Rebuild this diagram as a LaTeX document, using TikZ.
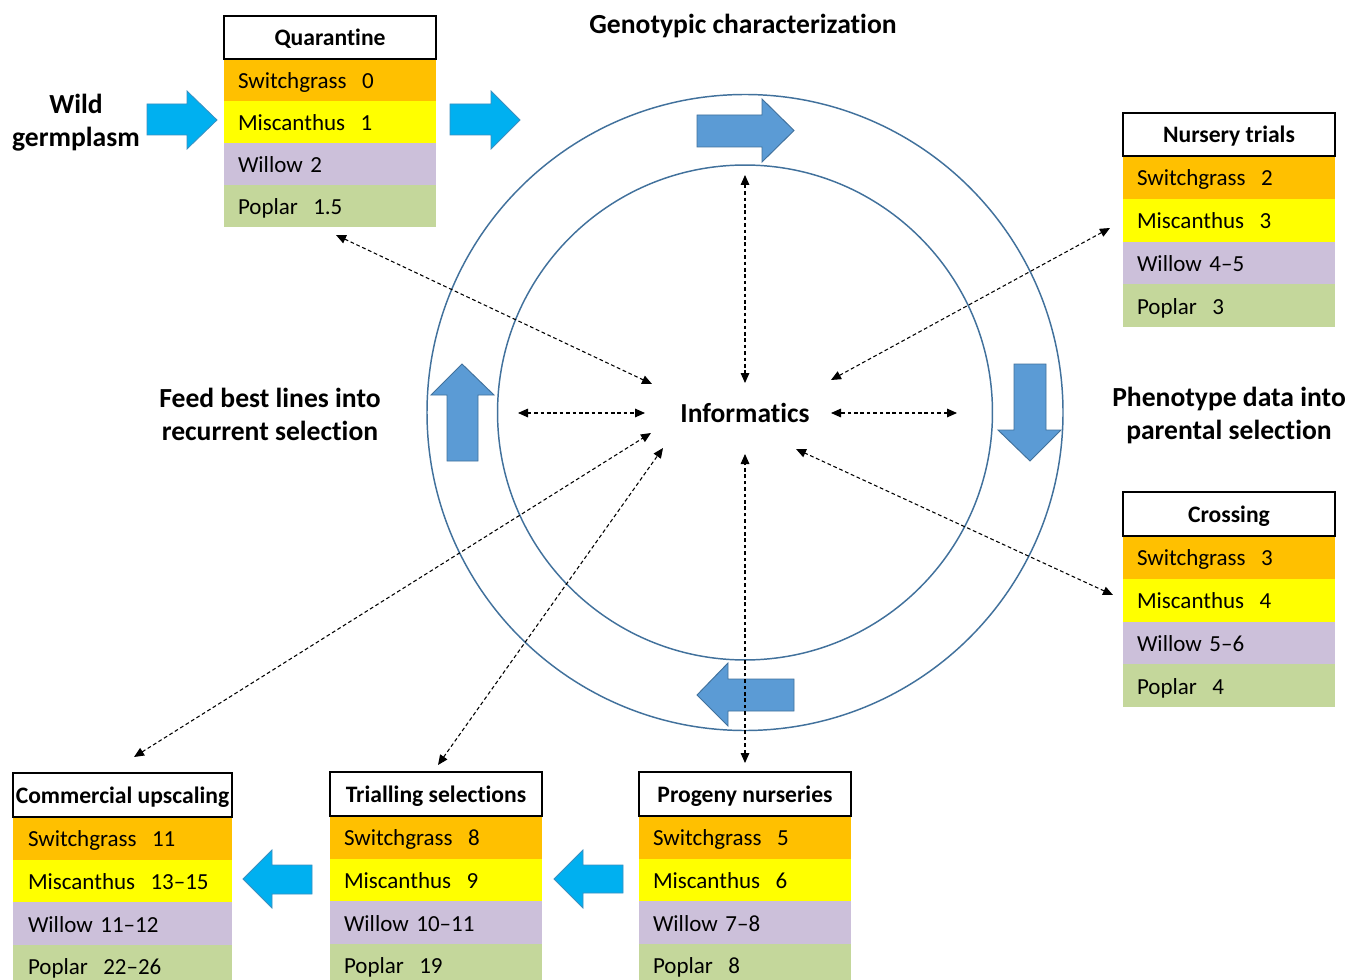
\documentclass[tikz,border=0pt]{standalone}
\usepackage{fontspec}
\setmainfont[Ligatures=NoCommon]{Carlito}
\usetikzlibrary{arrows.meta}
\definecolor{sgc}{HTML}{FFC000}
\definecolor{mic}{HTML}{FFFF00}
\definecolor{wic}{HTML}{CCC0DA}
\definecolor{poc}{HTML}{C4D79B}
\definecolor{lblue}{HTML}{00B0F0}
\definecolor{lblueline}{HTML}{3A8FC0}
\definecolor{cblue}{HTML}{5B9BD5}
\definecolor{cline}{HTML}{41719C}

\newcommand{\stagebox}[8]{%
  \pgfmathsetlengthmacro{\sbwd}{\sbw*0.75pt}%
  \pgfmathsetlengthmacro{\sbtw}{(\sbw-2*\sbx)*0.75pt}%
  \pgfmathsetlengthmacro{\sbxs}{\sbx*0.75pt}%
  \pgfmathsetlengthmacro{\sbhd}{\sbh*0.75pt}%
  \pgfmathsetlengthmacro{\sbrd}{\sbr*0.75pt}%
  \node[rowbox, fill=sgc, text width=\sbtw, inner xsep=\sbxs, minimum height=\sbrd] (#1-sg) at (#2,#3+\sbh) {#5};
  \node[rowbox, fill=mic, text width=\sbtw, inner xsep=\sbxs, minimum height=\sbrd] (#1-mi) at (#1-sg.south west) {#6};
  \node[rowbox, fill=wic, text width=\sbtw, inner xsep=\sbxs, minimum height=\sbrd] (#1-wi) at (#1-mi.south west) {#7};
  \node[rowbox, fill=poc, text width=\sbtw, inner xsep=\sbxs, minimum height=\sbrd] (#1-po) at (#1-wi.south west) {#8};
  \node[hdr, minimum width=\sbwd, minimum height=\sbhd] (#1) at (#2,#3) {#4};
}

\begin{document}
\begin{tikzpicture}[x=0.75pt,y=-0.75pt,
  hdr/.style={draw=black, line width=1pt, fill=white, inner sep=0pt, outer sep=0pt,
    anchor=north west, text height=14pt, text depth=2pt,
    font=\bfseries\fontsize{17.7}{20}\selectfont},
  rowbox/.style={inner ysep=0pt, outer sep=0pt, align=left, anchor=north west,
    text height=14.5pt, text depth=1.75pt, font=\fontsize{17.25}{20}\selectfont},
  lab/.style={font=\bfseries\fontsize{20.7}{24.75}\selectfont, align=center, inner sep=0pt},
  dashar/.style={line width=0.8pt, dash pattern=on 2.8pt off 2pt,
    {Triangle[length=7.5pt,width=6.5pt]}-{Triangle[length=7.5pt,width=6.5pt]}},
  ring/.style={draw=cline, line width=1.1pt},
  cyclearrow/.style={fill=cblue, draw=cline, line width=0.7pt, line join=miter},
  flowarrow/.style={fill=lblue, draw=lblueline, line width=0.6pt, line join=miter}
]
\clip (0,0) rectangle (1359,980);
\fill[white] (0,0) rectangle (1359,980);

% rings
\draw[ring] (745,412.5) circle[radius=238.5pt];
\draw[ring] (745,412.5) circle[radius=185.6pt];

% cycle arrows
\draw[cyclearrow] (697,115) -- (762,115) -- (762,99) -- (794,130.5) -- (762,162) -- (762,147) -- (697,147) -- cycle;
\draw[cyclearrow] (1014,364) -- (1046,364) -- (1046,430) -- (1061,430) -- (1030,461) -- (998,430) -- (1014,430) -- cycle;
\draw[cyclearrow] (794,679) -- (728,679) -- (728,663) -- (697,695) -- (728,726) -- (728,711) -- (794,711) -- cycle;
\draw[cyclearrow] (447,461) -- (447,395) -- (431,395) -- (462,364) -- (494,395) -- (478,395) -- (478,461) -- cycle;

% flow arrows
\draw[flowarrow] (147,104) -- (187,104) -- (187,91) -- (217,120) -- (187,149) -- (187,135) -- (147,135) -- cycle;
\draw[flowarrow] (450,104) -- (491,104) -- (491,91) -- (520,120) -- (491,149) -- (491,135) -- (450,135) -- cycle;
\draw[flowarrow] (623,865) -- (583,865) -- (583,850) -- (554,879) -- (583,908) -- (583,893) -- (623,893) -- cycle;
\draw[flowarrow] (312,865) -- (272,865) -- (272,850) -- (243,879) -- (272,908) -- (272,894) -- (312,894) -- cycle;

% stage boxes
\def\sbw{212}\def\sbx{14}\def\sbh{43}\def\sbr{42}
\stagebox{quar}{224}{16}{Quarantine}{Switchgrass\ \ 0}{Miscanthus\ \ 1}{Willow 2}{Poplar\ \ 1.5}
\def\sbr{42.8}
\stagebox{nurs}{1123}{113}{Nursery trials}{Switchgrass\ \ 2}{Miscanthus\ \ 3}{Willow 4–5}{Poplar\ \ 3}
\def\sbh{44}
\stagebox{cros}{1123}{492}{Crossing}{Switchgrass\ \ 3}{Miscanthus\ \ 4}{Willow 5–6}{Poplar\ \ 4}
\def\sbr{42.6}
\stagebox{prog}{639}{772}{Progeny nurseries}{Switchgrass\ \ 5}{Miscanthus\ \ 6}{Willow 7–8}{Poplar\ \ 8}
\stagebox{tria}{330}{772}{Trialling selections}{Switchgrass\ \ 8}{Miscanthus\ \ 9}{Willow 10–11}{Poplar\ \ 19}
\def\sbw{219}\def\sbx{15}
\stagebox{comm}{13}{773}{Commercial upscaling}{Switchgrass\ \ 11}{Miscanthus\ \ 13–15}{Willow 11–12}{Poplar\ \ 22–26}

% labels
\node[lab] (wild) at (76,122.5) {Wild\\germplasm};
\node[lab] (geno) at (743,26) {Genotypic characterization};
\node[lab] (feed) at (270,414.5) {Feed best lines into\\recurrent selection};
\node[lab] (phen) at (1229,415.5) {Phenotype data into\\parental selection};
\node[font=\bfseries\fontsize{20.6}{24}\selectfont, inner sep=0pt] (inf) at (745,413) {Informatics};

% informatics connectors
\coordinate (iq) at (652,384);  \coordinate (qd) at (336,235);
\coordinate (it) at (745,383);  \coordinate (td) at (745,175);
\coordinate (in) at (831,380);  \coordinate (nd) at (1110,228);
\coordinate (il) at (645,413);  \coordinate (ld) at (518,413);
\coordinate (ir) at (831,413);  \coordinate (rd) at (957,413);
\coordinate (ic) at (796,449);  \coordinate (cd) at (1113,595);
\coordinate (ib) at (745,454);  \coordinate (bd) at (745,763);
\coordinate (itr) at (663,448); \coordinate (trd) at (438,765);
\coordinate (ico) at (651,433); \coordinate (cod) at (134,757);

\draw[dashar] (qd) -- (iq);
\draw[dashar] (td) -- (it);
\draw[dashar] (nd) -- (in);
\draw[dashar] (ld) -- (il);
\draw[dashar] (rd) -- (ir);
\draw[dashar] (cd) -- (ic);
\draw[dashar] (bd) -- (ib);
\draw[dashar] (trd) -- (itr);
\draw[dashar] (cod) -- (ico);
\end{tikzpicture}
\end{document}
